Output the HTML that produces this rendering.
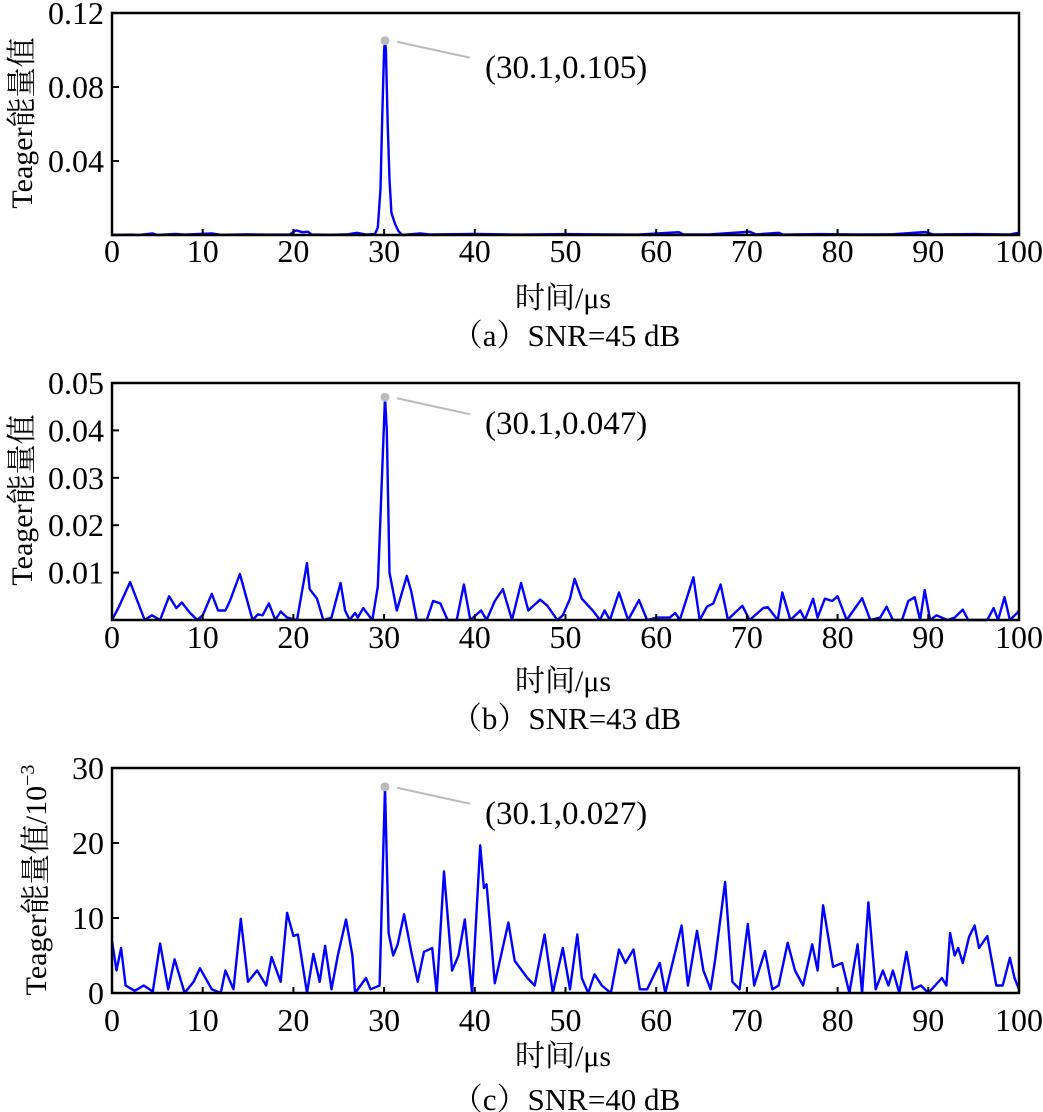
<!DOCTYPE html>
<html><head><meta charset="utf-8"><style>
html,body{margin:0;padding:0;background:#fff;}
svg{display:block;font-family:"Liberation Serif","Noto Serif CJK SC","Noto Sans CJK SC",serif;}
</style></head><body>
<svg id="fig" width="1043" height="1112" viewBox="0 0 1043 1112" xmlns="http://www.w3.org/2000/svg"></svg>
<script>
// x-axis ticks (shared)
const xTicks = [0,10,20,30,40,50,60,70,80,90,100];
// Panel (a) data: time (μs) / Teager energy
const aTimes = [0,2,3,4.5,5,7,8,11,12,15,17,19.6,20.3,21,21.6,22,24,26,27,28,29,29.3,29.6,29.8,30,30.1,30.2,30.4,30.6,30.8,31.2,31.6,32,34,35,40,45,50,55,58,62.5,63,66,70.3,71,73.5,74,78,82,86,89.7,90.5,95,99,100];
const aValues = [0,0.0002,0,0.0008,0,0.0006,0.0002,0.0008,0.0001,0.0004,0.0002,0.0003,0.0025,0.0015,0.0018,0.0003,0.0001,0.0004,0.0012,0.0002,0.0006,0.004,0.025,0.065,0.1,0.105,0.1,0.06,0.03,0.012,0.006,0.002,0,0.0008,0.0003,0.0006,0.0002,0.0005,0.0003,0.0002,0.0015,0.0003,0.0004,0.0018,0.0003,0.0012,0.0002,0.0005,0.0003,0.0004,0.0016,0.0003,0.0005,0.0003,0.0012];
const aTickLabels = ["0.04","0.08","0.12"];
const aTickValues = [0.04,0.08,0.12];
// Panel (b)
const bTimes = [0,0.7,2,3.6,4.4,5.3,6.3,7.1,7.7,8.6,9.4,10,11,11.7,12.5,13,14.1,15.2,15.5,16.1,16.6,17.3,18,18.6,19.3,20.4,21.5,21.8,22.6,23.3,24.2,25.2,25.7,26.2,26.8,27.1,27.7,28.7,29.3,30.1,30.3,30.6,31.4,32.5,33,33.6,34.7,35.4,36.2,37,38,38.8,39.5,40.7,41.3,42.2,43.1,44.1,45.1,45.9,47.2,48,49.1,49.7,50.5,51,51.8,53,53.8,54.3,54.9,55.9,56.9,58.1,59,60.1,61.5,62.1,62.6,64.1,64.8,65.6,66.3,67.1,67.9,69.5,70.3,71.8,72.3,73.4,73.9,74.8,75.9,76.4,77.3,77.8,78.6,79.4,80,81,82.7,83.6,84.7,85.4,86.1,87.1,87.8,88.5,89.1,89.6,90.2,90.9,92.1,92.9,93.8,94.4,96.5,97.2,97.7,98.4,99,99.8,100];
const bValues = [0,0.0025,0.008,0,0.001,0,0.005,0.0025,0.0037,0.0015,0,0.001,0.0055,0.002,0.002,0.004,0.0097,0.002,0,0.0012,0.001,0.0035,0,0.0018,0.0005,0,0.012,0.0065,0.0045,0,0.0005,0.0078,0.002,0,0.0015,0.0005,0.0025,0,0.007,0.047,0.04,0.01,0.002,0.0093,0.006,0,0,0.004,0.0035,0,0,0.0075,0,0.002,0,0.004,0.0065,0,0.0078,0.002,0.0043,0.003,0,0.001,0.0045,0.0087,0.0045,0.002,0,0.002,0,0.0058,0,0.0042,0,0.0005,0.0005,0.0015,0,0.009,0,0.0028,0.0035,0.0075,0.0001,0.003,0,0.0025,0.0027,0,0.0058,0,0.002,0,0.0045,0.0005,0.0045,0.004,0.005,0,0.0046,0,0.0005,0.0028,0,0,0.004,0.0048,0,0.0063,0,0.001,0,0.0005,0.0022,0,0,0.0025,0,0.0048,0,0.0015,0.002];
const bTickLabels = ["0.01","0.02","0.03","0.04","0.05"];
const bTickValues = [0.01,0.02,0.03,0.04,0.05];
// Panel (c) (units 1e-3)
const cTimes = [0,0.5,1,1.5,2.5,3.5,4.5,5.3,6.2,6.9,8,9,9.7,11,12,12.5,13.4,14.2,15,16,17,17.6,18.6,19.3,20,20.5,21.5,22.2,22.9,23.5,24.2,24.9,25.8,26.5,26.8,28,28.5,29.5,30.1,30.5,31,31.5,32.2,33,33.7,34.4,35.3,35.8,36.6,37.5,38.2,38.9,39.7,40.6,41,41.3,42.2,43.7,44.4,45.8,46.6,47.7,48.6,49.7,50.5,51.3,51.8,52.5,53.2,54,55,55.9,56.6,57.5,58.2,59,60.4,61,61.6,62.8,63.5,64.5,65.2,66,66.5,67.6,68.4,69.2,70.1,70.8,72,72.8,73.5,74.5,75.3,76.2,77.2,77.8,78.4,79.5,80.5,81.3,82.2,82.7,83.4,84.2,85,85.6,86.1,86.8,87.6,88.3,89.2,90,91.5,92,92.4,92.9,93.3,93.8,94.5,95.1,95.6,96.5,97.5,98.2,99,99.5,100];
const cValues = [7,3,6,1,0.3,1,0.2,6.6,0.5,4.5,0,1.5,3.3,0.5,0,3,0.5,9.9,1.5,3,1,4.8,1.5,10.7,7.6,7.8,0,5.2,1.5,6.3,0.5,5,9.8,5,0,2,0.5,1,27.5,8,5,6.5,10.5,5.5,1.5,5.5,6,0,16.2,3,5,9.8,0,19.7,14,14.5,1.3,9.4,4.3,2,1,7.8,0,6,0.5,7.8,2,0,2.5,1,0,5.8,4,5.8,0.5,0.5,4,0,3,9,1,8.3,3,0.5,4.5,14.8,1.5,0.5,9.2,1,5.6,0.5,1,6.7,3,1,6.5,3,11.7,3.5,4,0,6.5,0,12.1,0.5,3,1,3,0,5.5,0.5,1,0,2,1,8,5,6,4,7.5,9,6,7.6,1,1,4.7,2,0.5];
const cTickLabels = ["0","10","20","30"];
const cTickValues = [0,10,20,30];

const NS = "http://www.w3.org/2000/svg";
const svg = document.getElementById('fig');
function mk(tag, attrs, parent){const e=document.createElementNS(NS,tag);for(const k in attrs)e.setAttribute(k,attrs[k]);(parent||svg).appendChild(e);return e;}

const X0=112, X1=1019;
function xMap(t){return X0+(t/100)*(X1-X0);}

function panel(cfg){
  const g=mk('g',{});
  
  
  const yMap=v=>cfg.yb-(v-cfg.ymin)/(cfg.ymax-cfg.ymin)*(cfg.yb-cfg.yt);
  let d='';
  cfg.times.forEach((t,i)=>{d+=(i?'L':'M')+xMap(t).toFixed(1)+' '+yMap(cfg.values[i]).toFixed(1);});
  const line=mk('path',{d:d,fill:'none',stroke:'#0000ff','stroke-width':2.4,'stroke-linejoin':'round'},g);
  
  
  const fr=mk('rect',{x:X0,y:cfg.yt,width:X1-X0,height:cfg.yb-cfg.yt,fill:'none',stroke:'#000','stroke-width':2.5},g);
  
  
  xTicks.forEach(t=>{
    const x=xMap(t);
    mk('line',{x1:x,x2:x,y1:cfg.yb,y2:cfg.yb-6,stroke:'#000','stroke-width':2},g);
    const tx=mk('text',{x:x,y:cfg.yb+cfg.xlOff,'font-size':32,'text-anchor':'middle'},g);
    tx.textContent=t;
    
    
  });
  cfg.tickValues.forEach((v,i)=>{
    const y=yMap(v);
    mk('line',{x1:X0,x2:X0+7,y1:y,y2:y,stroke:'#000','stroke-width':2},g);
    const ty=mk('text',{x:X0-8,y:y+11,'font-size':32,'text-anchor':'end'},g);
    ty.textContent=cfg.tickLabels[i];
    
    
  });
  const xt=mk('text',{x:563,y:cfg.yb+cfg.xtOff,'font-size':30,'text-anchor':'middle'},g);
  xt.textContent='时间/μs';
  
  
  const cap=mk('text',{x:566,y:cfg.yb+cfg.capOff,'font-size':31,'text-anchor':'middle'},g);
  cap.textContent=cfg.caption;
  
  
  const yt=mk('text',{x:0,y:0,'font-size':cfg.ytSize,'text-anchor':'middle',transform:`translate(${cfg.ytx},${cfg.yty}) rotate(-90)`},g);
  
  
  yt.textContent=cfg.ytitle;
  if(cfg.sup){const s=mk('tspan',{dy:-12,'font-size':20},yt);s.textContent=cfg.sup;}
  const pt=cfg.peakT, pv=cfg.peakV;
  const px=xMap(pt), py=yMap(pv);
  const ld=mk('line',{x1:px+12,y1:py+1,x2:px+85,y2:py+17,stroke:'#bbbbbb','stroke-width':2},g);
  
  
  const c=mk('circle',{cx:px,cy:py,r:4.5,fill:'#bbbbbb'},g);
  
  
  const lb=mk('text',{x:px+100,y:py+37,'font-size':33},g);
  lb.textContent=cfg.peakLabel;
  
  
}

panel({name:'panel-a',times:aTimes,values:aValues,ymin:0,ymax:0.12,yt:13,yb:235,tickValues:aTickValues,tickLabels:aTickLabels,caption:'（a）SNR=45 dB',ytitle:'Teager能量值',ytSize:30,ytx:32,yty:123,peakT:30.1,peakV:0.105,peakLabel:'(30.1,0.105)',xlOff:27,xtOff:73,capOff:111});
panel({name:'panel-b',times:bTimes,values:bValues,ymin:0,ymax:0.05,yt:383,yb:620,tickValues:bTickValues,tickLabels:bTickLabels,caption:'（b）SNR=43 dB',ytitle:'Teager能量值',ytSize:30,ytx:32,yty:500,peakT:30.1,peakV:0.047,peakLabel:'(30.1,0.047)',xlOff:28,xtOff:71,capOff:109});
panel({name:'panel-c',times:cTimes,values:cValues,ymin:0,ymax:30,yt:768,yb:993,tickValues:cTickValues,tickLabels:cTickLabels,caption:'（c）SNR=40 dB',ytitle:'Teager能量值/10',sup:'−3',ytSize:30,ytx:46,yty:880,peakT:30.1,peakV:27.5,peakLabel:'(30.1,0.027)',xlOff:38,xtOff:73,capOff:117});
</script>
</body></html>
